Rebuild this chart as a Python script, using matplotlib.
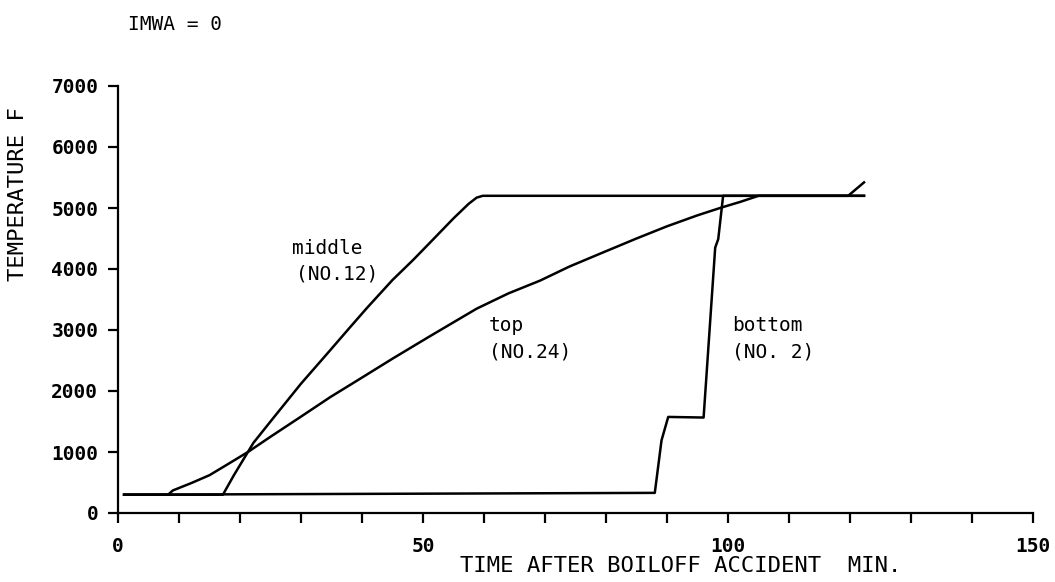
import numpy as np
import matplotlib
matplotlib.use("Agg")
import matplotlib.pyplot as plt
from matplotlib.ticker import MultipleLocator, FixedLocator

# Fuel temperature histories at three axial nodes (time in min, temperature in F)
top_time = [1, 8.2, 9, 12, 15, 18, 21.3, 25, 30, 34.8, 40, 45, 51, 58.8, 64, 69.2,
            74, 79, 85, 90, 95, 99, 102, 105, 119.7, 122.3]
top_temp = [300, 300, 370, 490, 620, 800, 1000, 1250, 1580, 1900, 2220, 2530, 2890,
            3350, 3600, 3810, 4040, 4250, 4500, 4700, 4880, 5010, 5100, 5200, 5200, 5420]

middle_time = [1, 17.2, 19, 22.2, 25.4, 30, 34.8, 38, 40.8, 45, 48.4, 52, 55, 57.5,
               58.8, 59.8, 122.3]
middle_temp = [300, 300, 620, 1150, 1550, 2120, 2670, 3040, 3360, 3820, 4150, 4520,
               4830, 5070, 5170, 5200, 5200]

bottom_time = [1, 88, 89.1, 90.2, 96.0, 97.9, 98.4, 99.2, 122.3]
bottom_temp = [300, 330, 1190, 1575, 1565, 4350, 4490, 5200, 5200]

x_major = [0, 50, 100, 150]
y_major = [0, 1000, 2000, 3000, 4000, 5000, 6000, 7000]

MONO = "DejaVu Sans Mono"
plt.rcParams["font.family"] = MONO

fig = plt.figure(figsize=(10.55, 5.82), dpi=100)
ax = fig.add_axes([118 / 1055, 1 - 513 / 582, 915 / 1055, 427 / 582])

for t, T in [(top_time, top_temp), (middle_time, middle_temp), (bottom_time, bottom_temp)]:
    ax.plot(t, T, color="black", lw=1.8, solid_joinstyle="round", clip_on=False)

ax.set_xlim(0, 150)
ax.set_ylim(0, 7000)
for side in ("top", "right"):
    ax.spines[side].set_visible(False)
for side in ("left", "bottom"):
    ax.spines[side].set_linewidth(1.6)

ax.xaxis.set_major_locator(FixedLocator(x_major))
ax.xaxis.set_minor_locator(MultipleLocator(10))
ax.yaxis.set_major_locator(FixedLocator(y_major))
ax.set_xticklabels([str(v) for v in x_major], fontweight="bold")
ax.set_yticklabels([str(v) for v in y_major], fontweight="bold")
ax.tick_params(axis="both", which="both", direction="out", length=7.2, width=1.6,
               color="black")
ax.tick_params(axis="x", which="major", pad=10, labelsize=14)
ax.tick_params(axis="y", which="major", pad=7, labelsize=14)

ax.set_xlabel("TIME AFTER BOILOFF ACCIDENT  MIN.", fontsize=16)
ax.xaxis.set_label_coords((681 - 118) / 915, (513 - 556) / 427)
ax.set_ylabel("TEMPERATURE F", fontsize=16)
ax.yaxis.set_label_coords((28 - 118) / 915, (513 - 194) / 427)

# curve annotations
ax.text(28.5, 4337, "middle", fontsize=14, ha="left", va="center")
ax.text(29.2, 3912, "(NO.12)", fontsize=14, ha="left", va="center")
ax.text(60.7, 3077, "top", fontsize=14, ha="left", va="center")
ax.text(60.9, 2635, "(NO.24)", fontsize=14, ha="left", va="center")
ax.text(100.7, 3077, "bottom", fontsize=14, ha="left", va="center")
ax.text(100.7, 2635, "(NO. 2)", fontsize=14, ha="left", va="center")

fig.text(128 / 1055, 1 - 25 / 582, "IMWA = 0", fontsize=14, ha="left", va="center")

fig.savefig("out.png", dpi=100)
